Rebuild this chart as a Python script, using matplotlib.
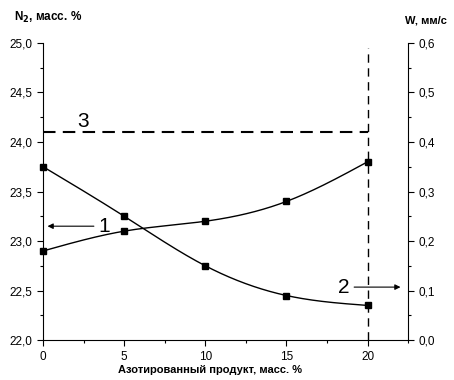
import numpy as np
import matplotlib
matplotlib.use("Agg")
import matplotlib.pyplot as plt
from matplotlib.ticker import FuncFormatter, MultipleLocator

plt.rcParams['font.family'] = ['Liberation Sans', 'DejaVu Sans']

# nitrided product content, mass %
x = [0, 5, 10, 15, 20]
# curve 1: N2 content, mass % (left axis)
n2 = [22.9, 23.1, 23.2, 23.4, 23.8]
# curve 2: burning rate W, mm/s (right axis)
w = [0.35, 0.25, 0.15, 0.09, 0.07]
# line 3: level of N2 and the limit on product content
n2_level = 24.1
x_limit = 20


def comma(fmt):
    return FuncFormatter(lambda v, p: (fmt % v).replace('.', ','))


def spline(xs, ys, n=200):
    # natural cubic spline through the points
    xs = np.asarray(xs, float)
    ys = np.asarray(ys, float)
    h = np.diff(xs)
    m = len(xs)
    A = np.zeros((m, m))
    b = np.zeros(m)
    A[0, 0] = A[-1, -1] = 1
    for i in range(1, m - 1):
        A[i, i - 1] = h[i - 1]
        A[i, i] = 2 * (h[i - 1] + h[i])
        A[i, i + 1] = h[i]
        b[i] = 6 * ((ys[i + 1] - ys[i]) / h[i] - (ys[i] - ys[i - 1]) / h[i - 1])
    M = np.linalg.solve(A, b)
    xx = np.linspace(xs[0], xs[-1], n)
    k = np.clip(np.searchsorted(xs, xx) - 1, 0, m - 2)
    t0 = xs[k + 1] - xx
    t1 = xx - xs[k]
    hk = h[k]
    yy = (M[k] * t0 ** 3 + M[k + 1] * t1 ** 3) / (6 * hk) \
        + (ys[k] / hk - M[k] * hk / 6) * t0 + (ys[k + 1] / hk - M[k + 1] * hk / 6) * t1
    return xx, yy


fig = plt.figure(figsize=(4.54, 3.8), dpi=100)
ax = fig.add_axes([0.095, 0.105, 0.804, 0.782])
ax2 = ax.twinx()

# left axis curve
xx, yy = spline(x, n2)
ax.plot(xx, yy, color='black', lw=1)
ax.plot(x, n2, 's', color='black', ms=5, clip_on=False)

# right axis curve
xx, yy = spline(x, w)
ax2.plot(xx, yy, color='black', lw=1)
ax2.plot(x, w, 's', color='black', ms=5, clip_on=False)

# dashed guides
ax.plot([0, x_limit], [n2_level, n2_level], color='black', lw=1.5, dashes=(6, 3.5))
ax.plot([x_limit, x_limit], [22.0, 24.95], color='black', lw=1, dashes=(6, 4))

ax.set_xlim(0, 22.5)
ax.set_ylim(22.0, 25.0)
ax2.set_ylim(0.0, 0.6)

ax.xaxis.set_major_locator(MultipleLocator(5))
ax.xaxis.set_minor_locator(MultipleLocator(2.5))
ax.yaxis.set_major_locator(MultipleLocator(0.5))
ax.yaxis.set_minor_locator(MultipleLocator(0.25))
ax2.yaxis.set_major_locator(MultipleLocator(0.1))
ax2.yaxis.set_minor_locator(MultipleLocator(0.05))
ax.yaxis.set_major_formatter(comma('%.1f'))
ax2.yaxis.set_major_formatter(comma('%.1f'))

for a in (ax, ax2):
    a.spines['top'].set_visible(False)
    a.tick_params(which='major', length=4, width=0.8, labelsize=8.5, direction='out')
    a.tick_params(which='minor', length=2.5, width=0.8, direction='out')
ax.spines['right'].set_visible(False)
ax2.spines['left'].set_visible(False)
ax2.spines['bottom'].set_visible(False)

# curve labels
ax.text(2.1, 24.15, '3', fontsize=15)
ax.annotate('', xy=(0.1, 23.15), xytext=(3.3, 23.15),
            arrowprops=dict(arrowstyle='-|>', color='black', lw=0.8, mutation_scale=8))
ax.text(3.4, 23.15, '1', fontsize=15, va='center')
ax.annotate('', xy=(22.2, 22.535), xytext=(19.0, 22.535),
            arrowprops=dict(arrowstyle='-|>', color='black', lw=0.8, mutation_scale=8))
ax.text(18.9, 22.535, '2', fontsize=15, va='center', ha='right')

fig.text(0.03, 0.953, r'N$_\mathbf{2}$, масс. %', fontsize=8.5, fontweight='bold', va='center')
fig.text(0.893, 0.947, 'W, мм/с', fontsize=8, fontweight='bold', va='center')
fig.text(0.463, 0.026, 'Азотированный продукт, масс. %', fontsize=8, fontweight='bold',
         ha='center', va='center')

fig.savefig('out.png', dpi=100)
